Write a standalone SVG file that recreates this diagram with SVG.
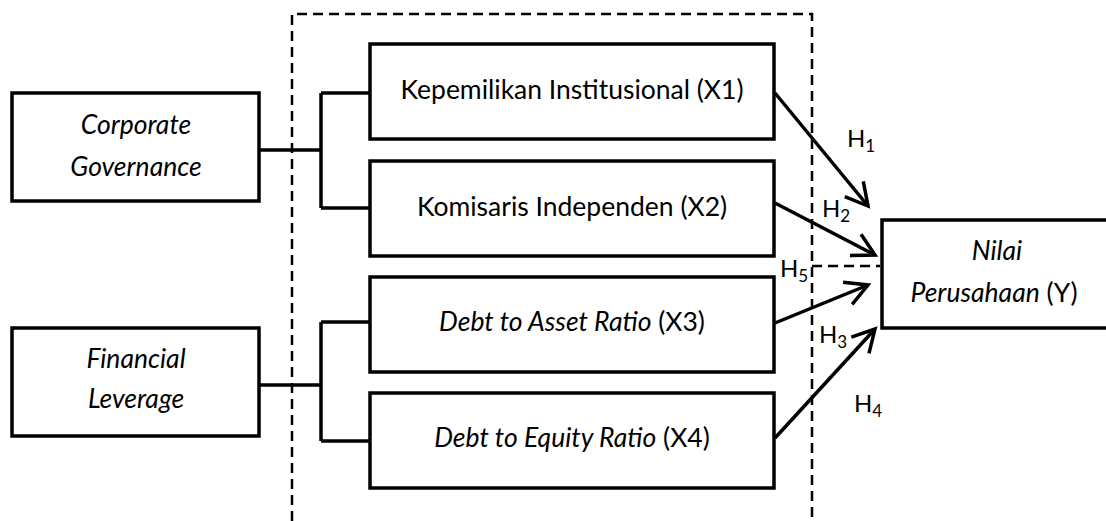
<svg xmlns="http://www.w3.org/2000/svg" width="1106" height="521" viewBox="0 0 1106 521">
<defs>
<style>
.box{fill:#fff;stroke:#000;stroke-width:3.5}
.ln{fill:none;stroke:#000;stroke-width:3.5}
.dash{fill:none;stroke:#000;stroke-width:2.5;stroke-dasharray:10,6}
.ar{fill:none;stroke:#000;stroke-width:3.5}
text{font-family:Lato,"Open Sans",sans-serif;font-size:26.5px;fill:#000}
.c{text-anchor:middle}
.i{font-style:italic}
.h{font-size:24px}
.sub{font-size:17px}
</style>
<marker id="arrb" markerWidth="30" markerHeight="30" refX="26" refY="15" orient="auto" markerUnits="userSpaceOnUse">
<path d="M4,3 L26,15 L4,27" fill="none" stroke="#000" stroke-width="3.5"/>
</marker>
</defs>
<g id="dashed-frame">
<path class="dash" d="M292,521 L292,14 L812,14 L812,521"/>
<path class="dash" d="M812,266 L880,266"/>
</g>
<g id="connectors">
<path class="ln" d="M259,150 L321,150 M321,93 L321,208 M321,93 L370,93 M321,208 L370,208"/>
<path class="ln" d="M259,385 L321,385 M321,322 L321,441 M321,322 L370,322 M321,441 L370,441"/>
<path class="ar" marker-end="url(#arrb)" d="M775,93 L868,206"/>
<path class="ar" marker-end="url(#arrb)" d="M775,203 L875,255"/>
<path class="ar" marker-end="url(#arrb)" d="M775,323 L868,285"/>
<path class="ar" marker-end="url(#arrb)" d="M775,438 L875,329"/>
</g>
<g id="corporate-governance">
<rect class="box" x="12" y="93" width="247" height="108"/>
<text class="c i" x="136" y="134">Corporate</text>
<text class="c i" x="136" y="176">Governance</text>
</g>
<g id="financial-leverage">
<rect class="box" x="12" y="328" width="247" height="108"/>
<text class="c i" x="136" y="368">Financial</text>
<text class="c i" x="136" y="408">Leverage</text>
</g>
<g id="x1">
<rect class="box" x="370" y="44" width="404" height="95"/>
<text class="c" x="572" y="99">Kepemilikan Institusional (X1)</text>
</g>
<g id="x2">
<rect class="box" x="370" y="161" width="404" height="95"/>
<text class="c" x="572" y="216">Komisaris Independen (X2)</text>
</g>
<g id="x3">
<rect class="box" x="370" y="277" width="404" height="95"/>
<text class="c" x="572" y="331"><tspan class="i">Debt to Asset Ratio</tspan> (X3)</text>
</g>
<g id="x4">
<rect class="box" x="370" y="393" width="404" height="95"/>
<text class="c" x="572" y="447"><tspan class="i">Debt to Equity Ratio</tspan> (X4)</text>
</g>
<g id="nilai">
<rect class="box" x="882" y="220" width="230" height="108"/>
<text class="c i" x="997" y="260">Nilai</text>
<text class="c" x="994" y="302"><tspan class="i">Perusahaan</tspan> (Y)</text>
</g>
<g id="labels">
<text class="h" x="847" y="147">H<tspan class="sub" dy="5">1</tspan></text>
<text class="h" x="822" y="217">H<tspan class="sub" dy="5">2</tspan></text>
<text class="h" x="780" y="277">H<tspan class="sub" dy="5">5</tspan></text>
<text class="h" x="819" y="343">H<tspan class="sub" dy="5">3</tspan></text>
<text class="h" x="854" y="412">H<tspan class="sub" dy="5">4</tspan></text>
</g>
</svg>
